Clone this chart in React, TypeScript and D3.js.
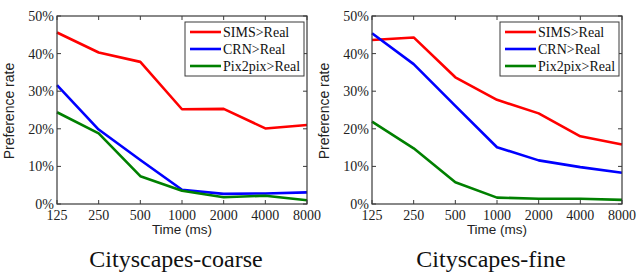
import React from 'react';
import * as d3 from 'd3';

// x categories (log2 spaced times)
const times = [125, 250, 500, 1000, 2000, 4000, 8000];
const yTicks = [0, 10, 20, 30, 40, 50];

const seriesNames = ['SIMS>Real', 'CRN>Real', 'Pix2pix>Real'];
const seriesColors = ['#ff0000', '#0000ff', '#008000'];

// Cityscapes-coarse
const coarseSims = [45.6, 40.3, 37.8, 25.2, 25.3, 20.1, 21.0];
const coarseCrn = [31.6, 19.8, 11.7, 3.8, 2.7, 2.8, 3.1];
const coarsePix = [24.4, 18.8, 7.4, 3.5, 1.8, 2.2, 1.0];

// Cityscapes-fine
const fineSims = [43.6, 44.3, 33.7, 27.7, 24.1, 18.0, 15.8];
const fineCrn = [45.4, 37.2, 26.1, 15.1, 11.6, 9.8, 8.3];
const finePix = [21.9, 14.8, 5.8, 1.7, 1.4, 1.4, 1.1];

const panels = [
  { title: 'Cityscapes-coarse', series: [coarseSims, coarseCrn, coarsePix] },
  { title: 'Cityscapes-fine', series: [fineSims, fineCrn, finePix] },
];

const serif = '"Liberation Serif", "DejaVu Serif", serif';
const sans = '"Liberation Sans", Arial, sans-serif';
const axisColor = '#3a3a3a';

interface PanelProps {
  left: number;
  title: string;
  series: number[][];
}

const Panel: React.FC<PanelProps> = ({ left, title, series }) => {
  const w = 250;
  const top = 16;
  const bottom = 204;
  const x = d3.scaleLog().base(2).domain([125, 8000]).range([left, left + w]);
  const y = d3.scaleLinear().domain([0, 50]).range([bottom, top]);
  const line = d3
    .line<number>()
    .x((_, i) => x(times[i]))
    .y((d) => y(d));

  const legX = left + 128;
  const legY = 22;

  return (
    <g>
      {/* series */}
      {series.map((vals, i) => (
        <path
          key={seriesNames[i]}
          d={line(vals) || ''}
          fill="none"
          stroke={seriesColors[i]}
          strokeWidth={2.6}
          strokeLinejoin="round"
        />
      ))}
      {/* frame */}
      <rect x={left} y={top} width={w} height={bottom - top} fill="none" stroke={axisColor} strokeWidth={1.2} />
      {/* y ticks */}
      {yTicks.map((t) => (
        <g key={`y${t}`}>
          <line x1={left} x2={left + 4} y1={y(t)} y2={y(t)} stroke={axisColor} />
          <line x1={left + w} x2={left + w - 4} y1={y(t)} y2={y(t)} stroke={axisColor} />
          <text
            x={left - 3}
            y={y(t) + 5}
            textAnchor="end"
            fontFamily={serif}
            fontSize={14}
            fill="#222"
          >
            {t}%
          </text>
        </g>
      ))}
      {/* x ticks */}
      {times.map((t) => (
        <g key={`x${t}`}>
          <line x1={x(t)} x2={x(t)} y1={bottom} y2={bottom - 4} stroke={axisColor} />
          <line x1={x(t)} x2={x(t)} y1={top} y2={top + 4} stroke={axisColor} />
          <text x={x(t)} y={bottom + 16} textAnchor="middle" fontFamily={serif} fontSize={14} fill="#222">
            {t}
          </text>
        </g>
      ))}
      <text
        x={left + w / 2}
        y={bottom + 30}
        textAnchor="middle"
        fontFamily={sans}
        fontSize={13.5}
        fill="#222"
      >
        Time (ms)
      </text>
      <text
        transform={`translate(${left - 43},${(top + bottom) / 2 + 1}) rotate(-90)`}
        textAnchor="middle"
        fontFamily={sans}
        fontSize={14}
        fill="#222"
      >
        Preference rate
      </text>
      {/* legend */}
      <rect x={legX} y={legY} width={w - 131} height={54} fill="#fff" stroke={axisColor} strokeWidth={1} />
      {seriesNames.map((name, i) => (
        <g key={name}>
          <line
            x1={legX + 5}
            x2={legX + 36}
            y1={legY + 10 + i * 17}
            y2={legY + 10 + i * 17}
            stroke={seriesColors[i]}
            strokeWidth={2.6}
          />
          <text x={legX + 38} y={legY + 15 + i * 17} fontFamily={serif} fontSize={14} fill="#111">
            {name}
          </text>
        </g>
      ))}
      <text
        x={left + w / 2 - 6}
        y={267}
        textAnchor="middle"
        fontFamily={serif}
        fontSize={24}
        fill="#111"
      >
        {title}
      </text>
    </g>
  );
};

const App: React.FC = () => {
  return (
    <svg
      width={639}
      height={272}
      style={{ position: 'absolute', left: 0, top: 0, background: '#fff' }}
    >
      {panels.map((p, i) => (
        <Panel key={p.title} left={i === 0 ? 57 : 372} title={p.title} series={p.series} />
      ))}
    </svg>
  );
};

export default App;
